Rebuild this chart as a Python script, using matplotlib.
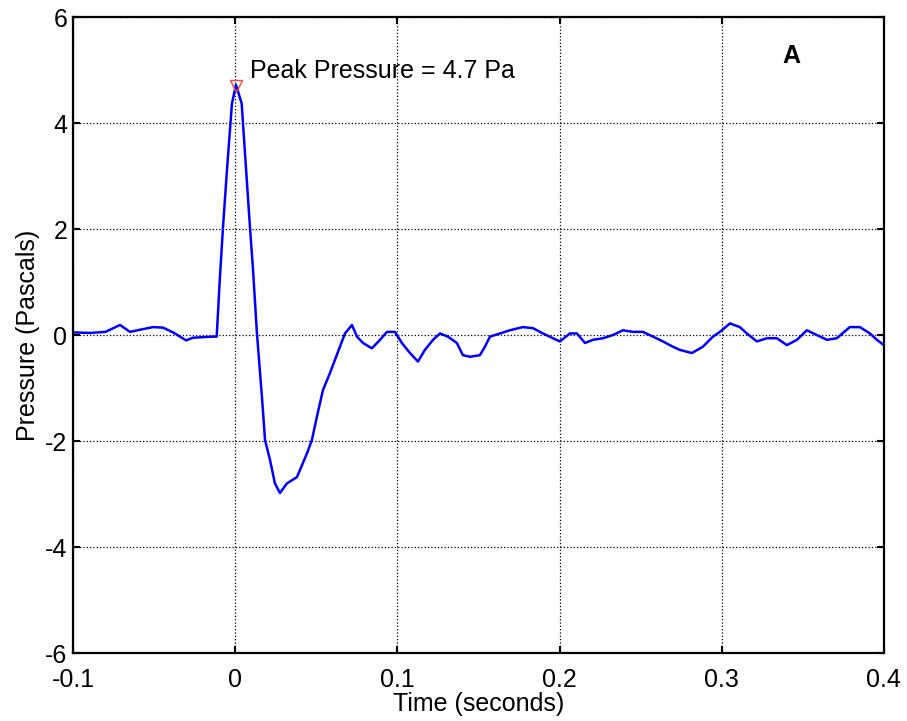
import matplotlib
matplotlib.use("Agg")
import matplotlib.pyplot as plt

plt.rcParams['font.family'] = ['Liberation Sans', 'DejaVu Sans']
plt.rcParams['axes.unicode_minus'] = False

# pressure trace (seconds, pascals)
time_s = [-0.100, -0.0895, -0.080, -0.071, -0.0649, -0.0587, -0.0507, -0.0445,
          -0.0383, -0.0303, -0.026, -0.020, -0.0137, -0.0114, -0.0094, -0.0075,
          -0.0051, -0.002, 0.0005, 0.004, 0.0048, 0.0091, 0.011, 0.0134, 0.0165,
          0.0184, 0.0215, 0.0245, 0.0276, 0.0319, 0.0381, 0.0443, 0.0473, 0.0504,
          0.0541, 0.0584, 0.0615, 0.0646, 0.0677, 0.072, 0.0751, 0.0788, 0.0843,
          0.0893, 0.0936, 0.0985, 0.1028, 0.1078, 0.1127, 0.117, 0.122, 0.1263,
          0.1312, 0.1367, 0.1404, 0.1448, 0.1509, 0.154, 0.1571, 0.1633, 0.1694,
          0.1774, 0.1836, 0.1898, 0.1959, 0.2002, 0.2064, 0.2107, 0.2157, 0.2206,
          0.2268, 0.2329, 0.2391, 0.2453, 0.2514, 0.2576, 0.2637, 0.2699, 0.2742,
          0.2816, 0.2884, 0.2946, 0.2989, 0.3051, 0.3112, 0.3155, 0.3217, 0.3279,
          0.334, 0.3402, 0.3464, 0.3525, 0.3587, 0.3649, 0.371, 0.379, 0.3852,
          0.3914, 0.3957, 0.400]
pressure_pa = [0.05, 0.04, 0.06, 0.19, 0.06, 0.10, 0.15, 0.14,
               0.05, -0.10, -0.05, -0.04, -0.03, -0.03, 1.10, 2.04,
               3.10, 4.37, 4.72, 4.37, 4.00, 2.04, 1.23, 0.04, -1.17,
               -1.98, -2.36, -2.80, -2.98, -2.80, -2.68, -2.23, -1.98, -1.54,
               -1.04, -0.72, -0.47, -0.22, 0.03, 0.19, -0.03, -0.15, -0.25,
               -0.09, 0.06, 0.06, -0.15, -0.34, -0.50, -0.28, -0.09, 0.03,
               -0.03, -0.15, -0.38, -0.41, -0.38, -0.22, -0.03, 0.03, 0.09,
               0.15, 0.13, 0.03, -0.06, -0.12, 0.03, 0.03, -0.15, -0.09,
               -0.06, 0.00, 0.09, 0.06, 0.06, -0.03, -0.12, -0.22, -0.28,
               -0.34, -0.22, -0.03, 0.06, 0.22, 0.15, 0.03, -0.12, -0.06,
               -0.06, -0.19, -0.09, 0.09, 0.00, -0.09, -0.06, 0.15, 0.15,
               0.03, -0.09, -0.19]

peak_time = 0.0005
peak_value = 4.7

xticks = [-0.1, 0, 0.1, 0.2, 0.3, 0.4]
xtick_labels = ['-0.1', '0', '0.1', '0.2', '0.3', '0.4']
yticks = [-6, -4, -2, 0, 2, 4, 6]
ytick_labels = ['-6', '-4', '-2', '0', '2', '4', '6']

fig = plt.figure(figsize=(9.07, 7.21), dpi=100)
ax = fig.add_axes([0.0805, 0.0943, 0.894, 0.882])

ax.plot(time_s, pressure_pa, color='blue', linewidth=1.8)
ax.plot([peak_time], [peak_value], marker='v', markersize=9, markerfacecolor='none',
        markeredgecolor='#ff4040', markeredgewidth=1.0, linestyle='none')
ax.text(0.009, 4.98, 'Peak Pressure = 4.7 Pa', fontsize=18, va='center', ha='left')
ax.text(0.343, 5.26, 'A', fontsize=18, fontweight='bold', va='center', ha='center')

ax.set_xlim(-0.1, 0.4)
ax.set_ylim(-6, 6)
ax.set_xticks(xticks)
ax.set_xticklabels(xtick_labels)
ax.set_yticks(yticks)
ax.set_yticklabels(ytick_labels)
ax.grid(True, color='black', linestyle=':', linewidth=0.9)
ax.tick_params(direction='in', length=5, width=1.5, labelsize=18, top=True, right=True)
ax.tick_params(axis='x', pad=11)
ax.tick_params(axis='y', pad=4)
for s in ax.spines.values():
    s.set_linewidth(1.6)

ax.set_xlabel('Time (seconds)', fontsize=18, labelpad=0)
ax.set_ylabel('Pressure (Pascals)', fontsize=18, labelpad=4)

fig.savefig('out.png', dpi=100)
